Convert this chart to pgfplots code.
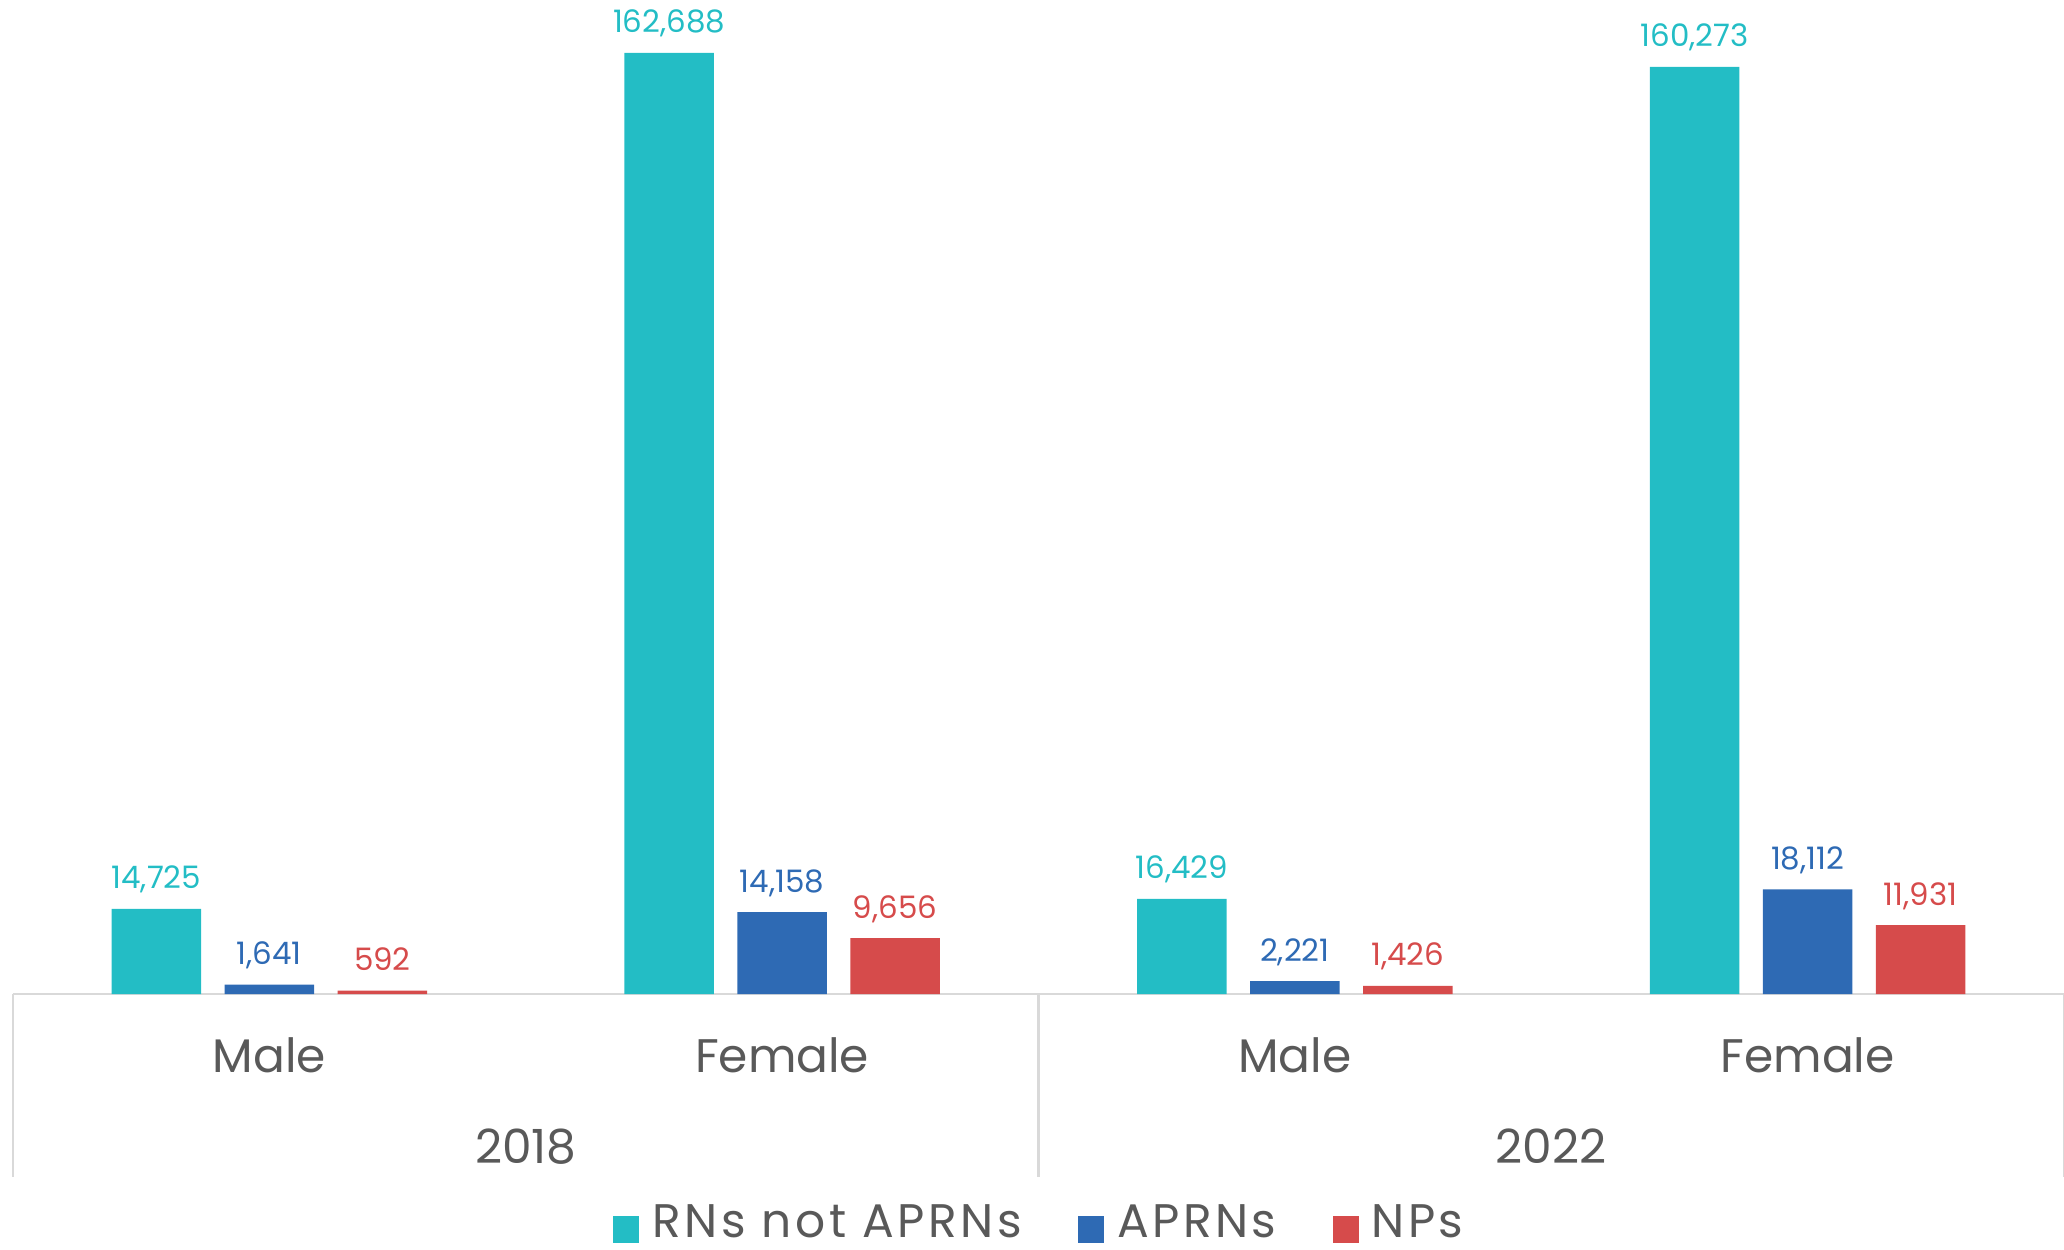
\documentclass[border=0pt]{standalone}
\usepackage{pgfplots}
\pgfplotsset{compat=1.18}
\usepackage{fontspec}
\setmainfont{Poppins}
\newfontfamily\legfont[LetterSpace=7.5]{Poppins}
\definecolor{cTeal}{HTML}{23BDC5}
\definecolor{cBlue}{HTML}{2E6AB4}
\definecolor{cRed}{HTML}{D64B4B}
\definecolor{cText}{HTML}{595959}
\definecolor{cLine}{HTML}{D9D9D9}
\newcommand{\bigf}{\fontsize{13.4}{16}\selectfont}
\newcommand{\smallf}{\fontsize{8.8}{10.5}\selectfont}
\begin{document}
\begin{tikzpicture}
\useasboundingbox (-1.3mm,-25.5mm) rectangle (205.1mm,99.4mm);
\begin{axis}[
  scale only axis, width=205.1mm, height=99.4mm,
  xmin=-0.5, xmax=3.5, ymin=0, ymax=171850,
  clip=false,
  axis x line*=bottom, axis y line=none,
  x axis line style={cLine, line width=0.6pt, -},
  xtick={0,1,2,3}, xticklabels={Male,Female,Male,Female},
  major tick length=0pt,
  xticklabel style={anchor=base, yshift=-7.8mm, font=\bigf, text=cText, inner sep=0pt},
  ytick=\empty,
  ybar, bar width=8.95mm,
  nodes near coords={\pgfmathprintnumber[fixed,precision=0,1000 sep={,},assume math mode=true]{\pgfplotspointmeta}},
  every node near coord/.append style={anchor=base, yshift=2mm, inner sep=0pt, font=\smallf},
  legend columns=3,
  legend style={at={(0.5,-0.231)}, anchor=center, draw=none, font=\legfont\bigf, text=cText,
    inner sep=0pt, outer sep=0pt,
    /tikz/every even column/.append style={column sep=5.6mm},
    nodes={inner sep=0pt, anchor=base west, text depth=0pt}},
  legend image code/.code={\fill[#1] (0mm,-0.5mm) rectangle (2.6mm,2.2mm); \path (3.9mm,0);},
]
\addplot[fill=cTeal, draw=none, bar shift=-11.3mm, nodes near coords style={text=cTeal}]
  coordinates {(0,14725) (1,162688) (2,16429) (3,160273)};
\addplot[fill=cBlue, draw=none, bar shift=0mm, nodes near coords style={text=cBlue}]
  coordinates {(0,1641) (1,14158) (2,2221) (3,18112)};
\addplot[fill=cRed, draw=none, bar shift=11.3mm, nodes near coords style={text=cRed}]
  coordinates {(0,592) (1,9656) (2,1426) (3,11931)};
\legend{RNs not APRNs, APRNs, NPs}
\draw[cLine, line width=0.6pt] (rel axis cs:0,0) -- ([yshift=-18.3mm]rel axis cs:0,0);
\draw[cLine, line width=0.6pt] (rel axis cs:0.5,0) -- ([yshift=-18.3mm]rel axis cs:0.5,0);
\draw[cLine, line width=0.6pt] (rel axis cs:1,0) -- ([yshift=-18.3mm]rel axis cs:1,0);
\node[anchor=base, inner sep=0pt, font=\bigf, text=cText] at (axis cs:0.5,0) [yshift=-16.9mm] {2018};
\node[anchor=base, inner sep=0pt, font=\bigf, text=cText] at (axis cs:2.5,0) [yshift=-16.9mm] {2022};
\end{axis}
\end{tikzpicture}
\end{document}
